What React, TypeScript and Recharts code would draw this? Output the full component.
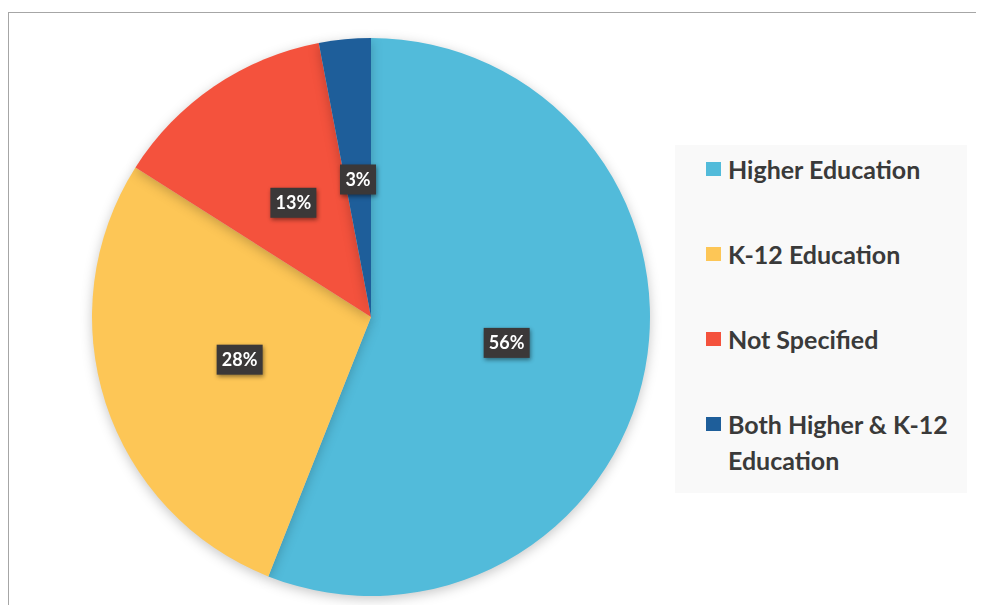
import React from 'react';
import { PieChart, Pie, Cell, Legend } from 'recharts';

const categories = ['Higher Education', 'K-12 Education', 'Not Specified', 'Both Higher & K-12 Education'];
const shares = [56, 28, 13, 3];
const colors = ['#52BBDA', '#FDC656', '#F4523D', '#1E5E9A'];

const data = categories.map((name, i) => ({ name, value: shares[i] }));

const RAD = Math.PI / 180;

const renderLabel = (props: any) => {
  const { cx, cy, midAngle, outerRadius, value } = props;
  const r = outerRadius * 0.495;
  const x = cx + r * Math.cos(-midAngle * RAD);
  const y = cy + r * Math.sin(-midAngle * RAD);
  const txt = `${value}%`;
  const w = 16 + txt.length * 10;
  const h = 30;
  return (
    <g style={{ filter: 'drop-shadow(1px 2px 2px rgba(0,0,0,0.45))' }}>
      <rect x={x - w / 2} y={y - h / 2} width={w} height={h} fill="#3b3838" />
      <text x={x} y={y} dy={6} textAnchor="middle" fill="#ffffff" fontSize={18} fontWeight={700} fontFamily="Lato, 'Open Sans', sans-serif">
        {txt}
      </text>
    </g>
  );
};

// legend drawn from the same arrays so the order stays as in the source
const LegendBox = () => (
  <div style={{ width: 292, height: 348, background: '#f9f9f9', boxSizing: 'border-box', paddingLeft: 31, paddingTop: 6, fontFamily: 'Lato, sans-serif' }}>
    {categories.map((name, i) => (
      <div key={`leg-${i}`} style={{ display: 'flex', alignItems: 'flex-start', height: 85 }}>
        <div style={{ width: 15, height: 14, background: colors[i], marginTop: 11, marginRight: 7, flexShrink: 0 }}></div>
        <div style={{ width: 230, fontSize: 25, fontWeight: 700, color: '#3a3a3a', lineHeight: '36px' }}>{name}</div>
      </div>
    ))}
  </div>
);

export default function App() {
  return (
    <div style={{ position: 'relative', width: 968, height: 597, overflow: 'hidden', background: '#fff' }}>
      <style>{`.edu-pie .recharts-pie-sector { filter: drop-shadow(0px 3px 6px rgba(0,0,0,0.22)); }`}</style>
      <div style={{ position: 'absolute', left: 0, top: 4, width: 1000, height: 700, borderLeft: '1.5px solid #a6a6a6', borderTop: '1.5px solid #a6a6a6' }}></div>
      <div className="edu-pie" style={{ position: 'absolute', left: 0, top: 0 }}>
        <PieChart width={968} height={597} margin={{ top: 0, right: 0, bottom: 0, left: 0 }}>
          <Pie
            data={data}
            dataKey="value"
            nameKey="name"
            cx={363}
            cy={309}
            outerRadius={279}
            startAngle={90}
            endAngle={-270}
            stroke="none"
            label={renderLabel}
            labelLine={false}
            isAnimationActive={false}
          >
            {data.map((d, i) => (
              <Cell key={`c-${i}`} fill={colors[i]} />
            ))}
          </Pie>
          <Legend
            layout="vertical"
            content={<LegendBox />}
            wrapperStyle={{ position: 'absolute', left: 667, top: 137, width: 292, height: 348 }}
          />
        </PieChart>
      </div>
    </div>
  );
}
